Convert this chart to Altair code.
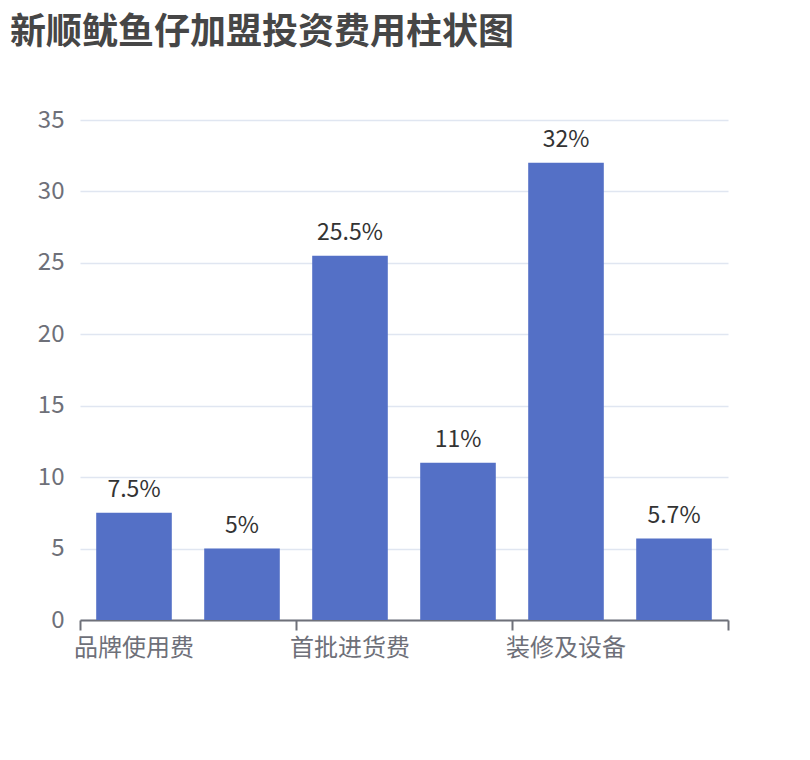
import altair as alt
import pandas as pd

categories = ["品牌使用费", "加盟保证金", "首批进货费", "店面租金", "装修及设备", "流动资金"]
values = [7.5, 5, 25.5, 11, 32, 5.7]
shown_labels = ["品牌使用费", "首批进货费", "装修及设备"]
end_tick = ["流动资金"]
y_ticks = [0, 5, 10, 15, 20, 25, 30, 35]

df = pd.DataFrame({
    "cat": categories,
    "val": values,
    "txt": [f"{v:g}%" for v in values],
})

FONT = "Noto Sans CJK SC"
AXIS_GREY = "#6E7079"

x_scale = alt.Scale(paddingInner=0, paddingOuter=0)

x_main = alt.X(
    "cat:N",
    sort=categories,
    scale=x_scale,
    axis=alt.Axis(
        values=shown_labels,
        bandPosition=0,
        orient="bottom",
        labelAngle=0,
        title=None,
        domainColor=AXIS_GREY,
        domainWidth=2,
        tickColor=AXIS_GREY,
        tickWidth=2,
        tickSize=10,
        labelColor=AXIS_GREY,
        labelFontSize=24,
        labelFont=FONT,
        labelPadding=6,
        labelBaseline="top",
        grid=False,
    ),
)

x_end = alt.X(
    "cat:N",
    sort=categories,
    scale=x_scale,
    axis=alt.Axis(
        values=end_tick,
        bandPosition=0.5,
        tickOffset=54,
        orient="bottom",
        title=None,
        labels=False,
        domain=False,
        tickColor=AXIS_GREY,
        tickWidth=2,
        tickSize=10,
        grid=False,
    ),
)

y_enc = alt.Y(
    "val:Q",
    scale=alt.Scale(domain=[0, 35], nice=False),
    axis=alt.Axis(
        values=y_ticks,
        title=None,
        domain=False,
        ticks=False,
        labelColor=AXIS_GREY,
        labelFontSize=24,
        labelFont=FONT,
        labelPadding=16,
        gridColor="#E0E6F1",
        gridWidth=1.5,
    ),
)

bars = alt.Chart(df).mark_bar(
    color="#5470C6", width=alt.RelativeBandSize(0.7)
).encode(x=x_main, y=y_enc)

text = alt.Chart(df).mark_text(
    baseline="alphabetic", dy=-16, fontSize=23, font=FONT, color="#333333"
).encode(
    x=x_end,
    y=alt.Y("val:Q"),
    text="txt:N",
)

chart = alt.layer(bars, text).resolve_scale(x="independent").resolve_axis(x="independent").properties(
    width=648,
    height=500,
    padding={"left": 72, "top": 112, "right": 74, "bottom": 128},
    autosize=alt.AutoSizeParams(type="none"),
    title=alt.TitleParams(
        "新顺鱿鱼仔加盟投资费用柱状图",
        anchor="start",
        frame="group",
        font=FONT,
        fontSize=36,
        fontWeight="bold",
        color="#464646",
        dx=-70,
        dy=-52,
    ),
).configure_view(stroke=None)

chart.save("out.html", embed_options={"renderer": "svg", "actions": False})
